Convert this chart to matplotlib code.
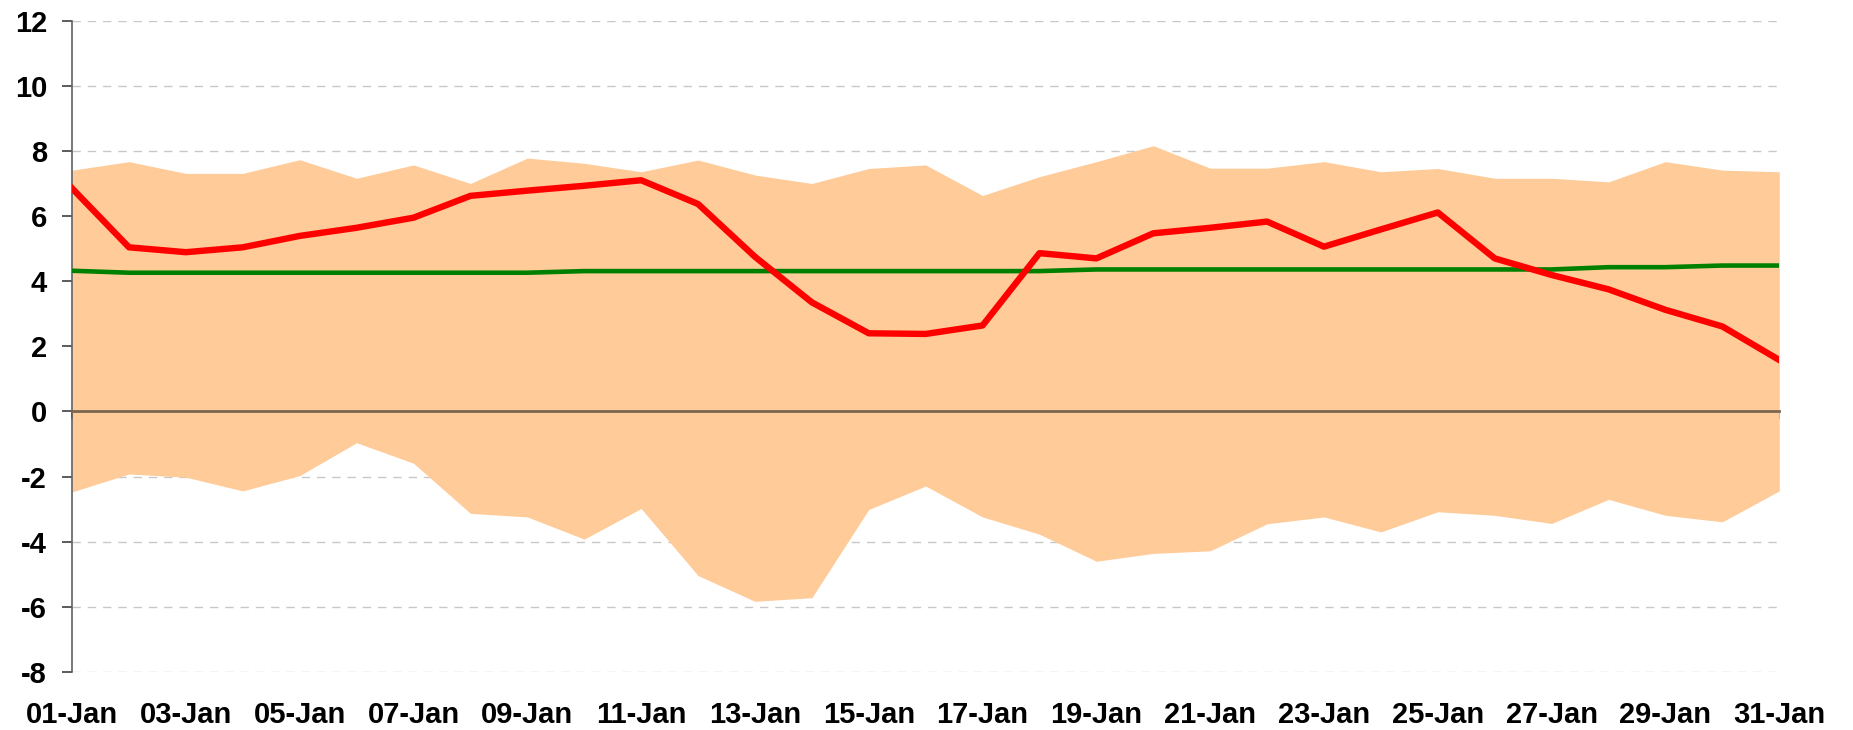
import numpy as np
import pandas as pd
from matplotlib import pyplot as plt

# daily values, January
dates = pd.date_range("2000-01-01", periods=31, freq="D")
labels = dates.strftime("%d-%b")

upper = [7.41, 7.67, 7.31, 7.31, 7.73, 7.16, 7.57, 7.00, 7.78, 7.62,
         7.36, 7.72, 7.26, 7.00, 7.46, 7.57, 6.63, 7.21, 7.67, 8.16,
         7.47, 7.47, 7.67, 7.36, 7.46, 7.16, 7.16, 7.05, 7.67, 7.41, 7.36]
lower = [-2.47, -1.92, -2.02, -2.44, -1.97, -0.96, -1.59, -3.13, -3.24, -3.92,
         -2.98, -5.04, -5.83, -5.72, -3.01, -2.29, -3.24, -3.77, -4.60, -4.36,
         -4.28, -3.45, -3.24, -3.70, -3.08, -3.19, -3.44, -2.70, -3.19, -3.39, -2.44]
red = [6.85, 5.04, 4.89, 5.04, 5.39, 5.64, 5.95, 6.62, 6.78, 6.93,
       7.10, 6.37, 4.75, 3.35, 2.40, 2.38, 2.64, 4.86, 4.70, 5.47,
       5.64, 5.83, 5.06, 5.59, 6.11, 4.70, 4.19, 3.75, 3.12, 2.61, 1.58]
green = [4.32, 4.26, 4.26, 4.26, 4.26, 4.26, 4.26, 4.26, 4.26, 4.31,
         4.31, 4.31, 4.31, 4.31, 4.31, 4.31, 4.31, 4.31, 4.36, 4.36,
         4.36, 4.36, 4.36, 4.36, 4.36, 4.36, 4.36, 4.43, 4.43, 4.48, 4.48]

plt.rcParams['font.family'] = ['Liberation Sans', 'DejaVu Sans']
plt.rcParams['font.weight'] = 'bold'
plt.rcParams['axes.unicode_minus'] = False

x = np.arange(len(dates))

fig = plt.figure(figsize=(18.53, 7.30), dpi=100)
ax = fig.add_axes([0.0389, 0.0795, 0.9602 - 0.0389, 0.9717 - 0.0795])

ax.fill_between(x, lower, upper, color="#FECB99", linewidth=0, zorder=1)
ax.plot(x, green, color="#008000", linewidth=3.3, zorder=3)
ax.plot(x, red, color="#FF0000", linewidth=4.6, zorder=4)

ax.set_xlim(x[0], x[-1])
ax.set_ylim(-8, 12)
ax.set_yticks(np.arange(-8, 13, 2))

ax.set_axisbelow(True)
ax.yaxis.grid(True, color="#c8c8c8", linestyle=(0, (6, 5)), linewidth=1.0)
ax.xaxis.grid(False)

for side in ["top", "right"]:
    ax.spines[side].set_visible(False)
ax.spines["left"].set_color("#606060")
ax.spines["left"].set_linewidth(1.2)
ax.spines["bottom"].set_position(("data", 0))
ax.spines["bottom"].set_color("#7a6650")
ax.spines["bottom"].set_linewidth(2.0)
ax.spines["bottom"].set_zorder(5)

ax.set_xticks(x[::2])
ax.tick_params(axis="x", direction="out", length=6, width=1.2, color="#404040",
               labelbottom=False)
ax.tick_params(axis="y", direction="out", length=7, width=1.2, color="#404040",
               pad=11, labelsize=21)

# date labels sit below the plot, not on the zero line
sec = ax.secondary_xaxis("bottom")
sec.set_xticks(x[::2], labels=labels[::2])
sec.tick_params(length=0, pad=21, labelsize=21)
sec.spines["bottom"].set_visible(False)

fig.savefig("out.png", dpi=100)
